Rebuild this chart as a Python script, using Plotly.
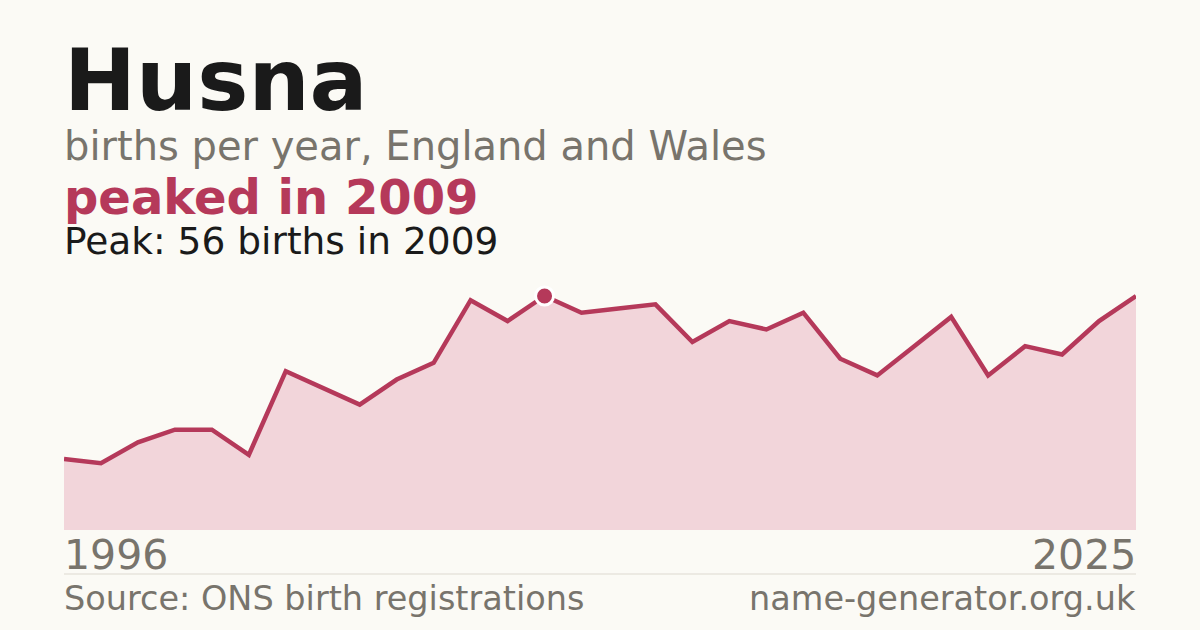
import plotly.graph_objects as go

# births per year for the name
years = list(range(1996, 2026))
births = [17, 16, 21, 24, 24, 18, 38, 34, 30, 36, 40, 55, 50, 56, 52, 53, 54, 45,
          50, 48, 52, 41, 37, 44, 51, 37, 44, 42, 50, 56]

name = "Husna"
subtitle = "births per year, England and Wales"
source = "Source: ONS birth registrations"
site = "name-generator.org.uk"

W, H = 1200, 630
bg = "#fbfaf5"
crimson = "#b5395a"
grey = "#78746c"
font = "DejaVu Sans"

peak = max(births)
peak_year = years[births.index(peak)]


def py(px):
    # pixel row -> paper fraction (margins are zero)
    return 1 - px / H


fig = go.Figure()
fig.add_trace(go.Scatter(
    x=years, y=births, mode="lines", fill="tozeroy",
    fillcolor="#f2d5da", line=dict(color=crimson, width=4.5),
    hoverinfo="skip"))
fig.add_trace(go.Scatter(
    x=[peak_year], y=[peak], mode="markers",
    marker=dict(size=18, color=crimson, line=dict(color="white", width=3)),
    hoverinfo="skip"))

L, R = 62 / W, 1138 / W
ann = [
    dict(text=f"<b>{name}</b>", x=L, y=py(80), size=86, color="#1a1a1a", xanchor="left"),
    dict(text=subtitle, x=L, y=py(146), size=40, color=grey, xanchor="left"),
    dict(text=f"<b>peaked in {peak_year}</b>", x=L, y=py(197), size=48, color=crimson, xanchor="left"),
    dict(text=f"Peak: {peak} births in {peak_year}", x=L, y=py(241), size=37.5, color="#1a1a1a", xanchor="left"),
    dict(text=str(years[0]), x=L, y=py(555), size=41, color=grey, xanchor="left"),
    dict(text=str(years[-1]), x=R, y=py(555), size=41, color=grey, xanchor="right"),
    dict(text=source, x=L, y=py(598), size=33.5, color=grey, xanchor="left"),
    dict(text=site, x=R, y=py(598), size=33.5, color=grey, xanchor="right"),
]
for a in ann:
    fig.add_annotation(text=a["text"], x=a["x"], y=a["y"], xref="paper", yref="paper",
                       xanchor=a["xanchor"], yanchor="middle", showarrow=False,
                       font=dict(family=font, size=a["size"], color=a["color"]))

fig.add_shape(type="line", xref="paper", yref="paper",
              x0=64 / W, x1=1136 / W, y0=py(574), y1=py(574),
              line=dict(color="#ddd9d0", width=1))

fig.update_layout(
    width=W, height=H, margin=dict(l=0, r=0, t=0, b=0),
    paper_bgcolor=bg, plot_bgcolor=bg, showlegend=False,
    xaxis=dict(domain=[64 / W, 1136 / W], range=[years[0], years[-1]],
               visible=False, fixedrange=True),
    yaxis=dict(domain=[py(530), py(280)], range=[0, peak * 250 / 234],
               visible=False, fixedrange=True),
)

fig.write_html("out.html", config={"displayModeBar": False},
               post_script="document.body.style.margin='0';")
